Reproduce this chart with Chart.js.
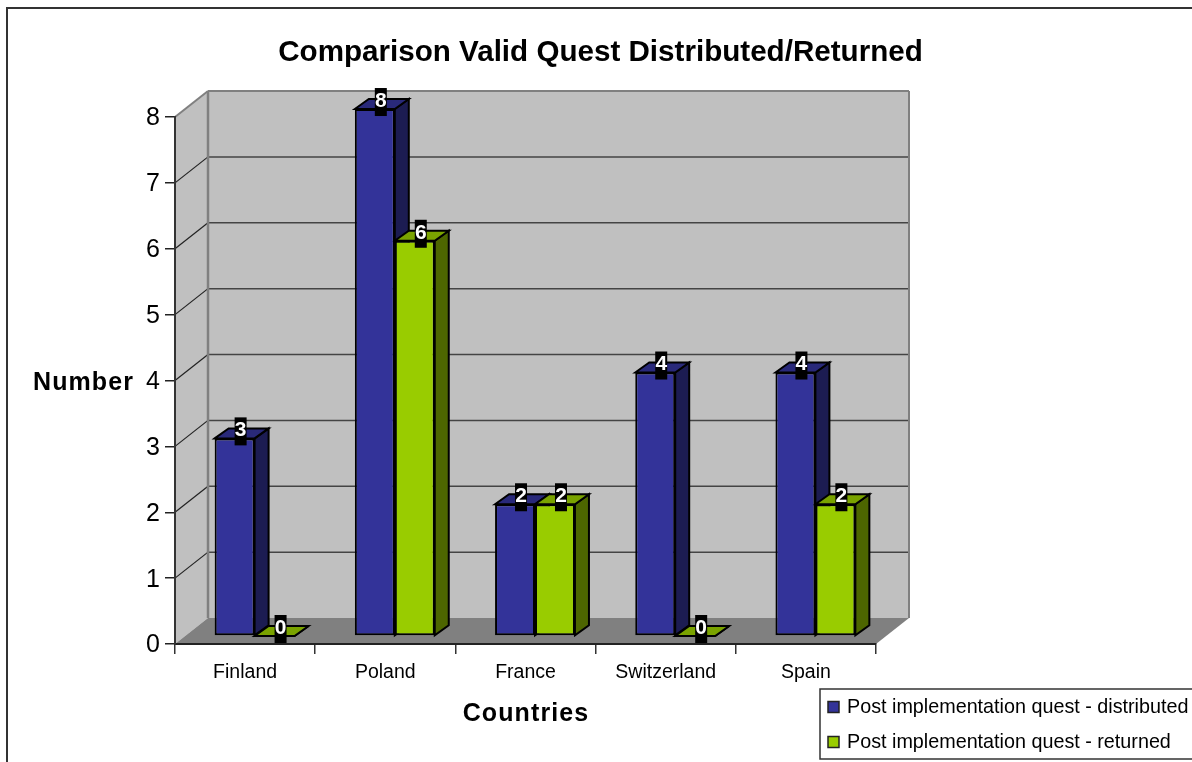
<!DOCTYPE html>
<html>
<head>
<meta charset="utf-8">
<title>Comparison Valid Quest Distributed/Returned</title>
<script src="https://cdn.jsdelivr.net/npm/chart.js@4"></script>
<style>
  html, body { margin: 0; padding: 0; background: #fff; overflow: hidden; }
  canvas { display: block; }
</style>
</head>
<body>
<canvas id="quest" width="1201" height="780"></canvas>
<script>
var countries = ["Finland", "Poland", "France", "Switzerland", "Spain"];
var distributed = [3, 8, 2, 4, 4];
var returned = [0, 6, 2, 0, 2];
var seriesNames = ["Post implementation quest - distributed", "Post implementation quest - returned"];

var FONT = '"Liberation Sans", Arial, sans-serif';

// shades for the bar faces: [front, side, top]
var blueFaces = ["#333399", "#1c1c52", "#29297a"];
var greenFaces = ["#99cc00", "#4d6600", "#7aa300"];

// depth of the box and of the bars
var wall = { dx: 33, dy: -26 };
var barPlane = { dx: 9.5, dy: -8 };
var barDepth = { dx: 14, dy: -10 };

function poly(ctx, pts, fill, stroke, lw) {
    ctx.beginPath();
    ctx.moveTo(pts[0][0], pts[0][1]);
    for (var i = 1; i < pts.length; i++) ctx.lineTo(pts[i][0], pts[i][1]);
    ctx.closePath();
    if (fill) { ctx.fillStyle = fill; ctx.fill(); }
    if (stroke) { ctx.strokeStyle = stroke; ctx.lineWidth = lw; ctx.stroke(); }
}

function line(ctx, x1, y1, x2, y2, color, lw) {
    ctx.beginPath();
    ctx.moveTo(x1, y1);
    ctx.lineTo(x2, y2);
    ctx.strokeStyle = color;
    ctx.lineWidth = lw;
    ctx.stroke();
}

/* walls, floor and outer frame */
var boxPlugin = {
    id: 'box',
    afterLayout: function(chart) {
        // title centres on the whole canvas, not the narrowed plot
        chart.titleBlock.left = 0;
        chart.titleBlock.right = chart.width;
    },
    beforeDraw: function(chart) {
        var ctx = chart.ctx, a = chart.chartArea, y = chart.scales.y;
        var dx = wall.dx, dy = wall.dy;
        ctx.save();
        ctx.fillStyle = '#fff';
        ctx.fillRect(0, 0, chart.width, chart.height);
        ctx.strokeStyle = '#333';
        ctx.lineWidth = 2;
        ctx.strokeRect(7, 8, chart.width, chart.height);

        // back wall
        poly(ctx, [[a.left + dx, a.top + dy], [a.right + dx, a.top + dy], [a.right + dx, a.bottom + dy], [a.left + dx, a.bottom + dy]], '#c0c0c0');
        // side wall
        poly(ctx, [[a.left, a.top], [a.left + dx, a.top + dy], [a.left + dx, a.bottom + dy], [a.left, a.bottom]], '#c0c0c0');

        // grid lines run along the side wall and across the back
        y.ticks.forEach(function(t) {
            if (t.value === y.max || t.value === y.min) return;
            var py = y.getPixelForValue(t.value);
            line(ctx, a.left, py, a.left + dx, py + dy, '#222', 1.2);
            line(ctx, a.left + dx, py + dy, a.right + dx, py + dy, '#444', 1.5);
        });

        // floor
        poly(ctx, [[a.left, a.bottom], [a.left + dx, a.bottom + dy], [a.right + dx, a.bottom + dy], [a.right, a.bottom]], '#808080');

        // grey box edges
        ctx.lineJoin = 'round';
        line(ctx, a.left, a.top, a.left + dx, a.top + dy, '#808080', 2);
        line(ctx, a.left + dx, a.top + dy, a.right + dx, a.top + dy, '#808080', 2);
        line(ctx, a.right + dx, a.top + dy, a.right + dx, a.bottom + dy, '#808080', 2);
        line(ctx, a.left + dx, a.top + dy, a.left + dx, a.bottom + dy, '#808080', 2.5);
        ctx.restore();
    }
};

/* side and top faces go under the fronts that chart.js draws */
var barsPlugin = {
    id: 'bars3d',
    beforeDatasetsDraw: function(chart) {
        var ctx = chart.ctx;
        ctx.save();
        ctx.translate(barPlane.dx, barPlane.dy);
        ctx.lineJoin = 'miter';
        [0, 1].forEach(function(d) {
            var faces = d === 0 ? blueFaces : greenFaces;
            chart.getDatasetMeta(d).data.forEach(function(el) {
                var l = el.x - el.width / 2, r = el.x + el.width / 2;
                var dx = barDepth.dx, dy = barDepth.dy;
                poly(ctx, [[r, el.y], [r + dx, el.y + dy], [r + dx, el.base + dy], [r, el.base]], faces[1], '#000', 2);
                poly(ctx, [[l, el.y], [l + dx, el.y + dy], [r + dx, el.y + dy], [r, el.y]], faces[2], '#000', 2);
            });
        });
    },
    afterDatasetsDraw: function(chart) {
        var ctx = chart.ctx;
        ctx.restore();
        // value tags over the bar tops
        ctx.save();
        ctx.font = 'bold 21px ' + FONT;
        ctx.textAlign = 'center';
        ctx.textBaseline = 'middle';
        [0, 1].forEach(function(d) {
            var values = chart.data.datasets[d].data;
            chart.getDatasetMeta(d).data.forEach(function(el, i) {
                var cx = el.x + barPlane.dx + 6, cy = el.y + barPlane.dy - 7;
                ctx.fillStyle = '#000';
                ctx.fillRect(cx - 6, cy - 14, 12, 28);
                ctx.fillStyle = '#fff';
                ctx.fillText(String(values[i]), cx, cy - 1);
            });
        });
        ctx.restore();
    }
};

/* axis captions and the boxed legend */
var captionPlugin = {
    id: 'captions',
    afterDraw: function(chart) {
        var ctx = chart.ctx;
        ctx.save();
        ctx.fillStyle = '#000';
        ctx.font = 'bold 25px ' + FONT;
        ctx.letterSpacing = '1.1px';
        ctx.textAlign = 'center';
        ctx.textBaseline = 'middle';
        ctx.fillText('Number', 83.5, 383);
        ctx.fillText('Countries', 526, 714);
        ctx.letterSpacing = '0px';

        ctx.fillStyle = '#fff';
        ctx.fillRect(820, 689, 400, 70);
        ctx.strokeStyle = '#333';
        ctx.lineWidth = 1.5;
        ctx.strokeRect(820, 689, 400, 70);

        ctx.font = '19.75px ' + FONT;
        ctx.textAlign = 'left';
        chart.data.datasets.forEach(function(ds, i) {
            var yy = 707 + i * 35;
            ctx.fillStyle = ds.backgroundColor;
            ctx.strokeStyle = '#222';
            ctx.lineWidth = 1.5;
            ctx.fillRect(828, yy - 5.5, 11, 11);
            ctx.strokeRect(828, yy - 5.5, 11, 11);
            ctx.fillStyle = '#000';
            ctx.fillText(ds.label, 847, yy + 1);
        });
        ctx.restore();
    }
};

var ctxQuest = document.getElementById("quest");

var dataQuest = {
    labels: countries,
    datasets: [{
        label: seriesNames[0],
        data: distributed,
        backgroundColor: blueFaces[0],
        borderColor: '#000',
        borderWidth: 2,
        borderSkipped: false
    }, {
        label: seriesNames[1],
        data: returned,
        backgroundColor: greenFaces[0],
        borderColor: '#000',
        borderWidth: 2,
        borderSkipped: false
    }]
};

var optionsQuest = {
    responsive: false,
    animation: false,
    devicePixelRatio: 1,
    layout: { padding: { left: 0, right: 325, top: 0, bottom: 0 } },
    categoryPercentage: 0.57,
    barPercentage: 1,
    plugins: {
        legend: { display: false },
        tooltip: { enabled: false },
        title: {
            display: true,
            text: 'Comparison Valid Quest Distributed/Returned',
            color: '#000',
            font: { family: FONT, size: 29.6, weight: 'bold', lineHeight: 1.2 },
            padding: { top: 35.5, bottom: 46 }
        }
    },
    scales: {
        x: {
            afterFit: function(scale) { scale.height = 136; },
            grid: { drawOnChartArea: false, color: '#333', lineWidth: 1.5, tickLength: 10, drawTicks: true },
            border: { color: '#222', width: 2 },
            ticks: { color: '#000', padding: 7, maxRotation: 0, autoSkip: false, font: { family: FONT, size: 19.5 } }
        },
        y: {
            min: 0,
            max: 8,
            afterFit: function(scale) { scale.width = 175; },
            grid: { drawOnChartArea: false, color: '#222', lineWidth: 1.5, tickLength: 10 },
            border: { color: '#333', width: 2 },
            ticks: { stepSize: 1, color: '#000', padding: 5, labelOffset: 1.5, font: { family: FONT, size: 25 } }
        }
    }
};

var quest = new Chart(ctxQuest, {
    type: 'bar',
    data: dataQuest,
    options: optionsQuest,
    plugins: [boxPlugin, barsPlugin, captionPlugin]
});
</script>
</body>
</html>
